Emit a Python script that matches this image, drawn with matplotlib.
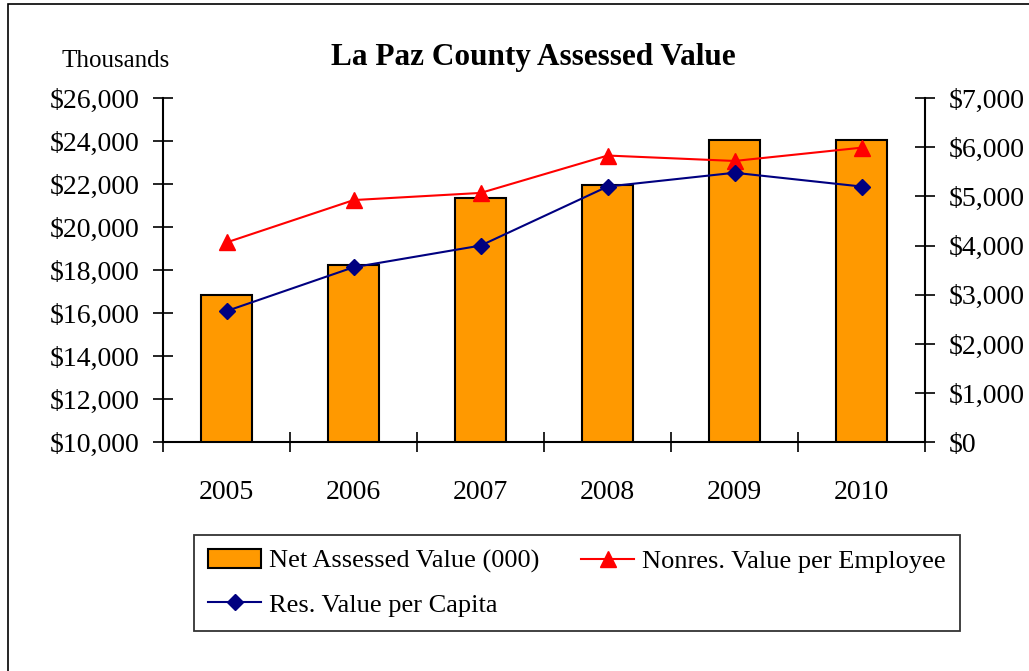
import matplotlib
matplotlib.use('Agg')
import matplotlib.pyplot as plt
from matplotlib.patches import Rectangle
from matplotlib.ticker import FuncFormatter, FixedLocator

# values
years = ['2005', '2006', '2007', '2008', '2009', '2010']
netAssessed = [16840, 18230, 21330, 21980, 24070, 24070]   # thousands
nonresPerEmp = [4065, 4925, 5070, 5830, 5720, 5990]
resPerCapita = [2670, 3560, 4000, 5200, 5480, 5200]

plt.rcParams['font.family'] = ['Liberation Serif', 'DejaVu Serif']

fig = plt.figure(figsize=(10.29, 6.71), dpi=100)
ax = fig.add_axes([163.3/1029, 1-442.3/671, (925-163.3)/1029, (442.3-98)/671])
ax2 = ax.twinx()

x = list(range(len(years)))
bars = ax.bar(x, netAssessed, width=0.40, color='#FF9900', edgecolor='black',
              linewidth=1.5, label='Net Assessed Value (000)', zorder=2)
ax.set_ylim(10000, 26000)
ax.set_xlim(-0.5, len(years)-0.5)
ax.set_yticks(range(10000, 26001, 2000))
ax.yaxis.set_major_formatter(FuncFormatter(lambda v, p: '${:,.0f}'.format(v)))

lnNon, = ax2.plot(x, nonresPerEmp, color='#FF0000', lw=1.5, marker='^', ms=11,
                  label='Nonres. Value per Employee')
lnRes, = ax2.plot(x, resPerCapita, color='#000080', lw=1.5, marker='D', ms=8.5,
                  label='Res. Value per Capita')
ax2.set_ylim(0, 7000)
ax2.set_yticks(range(0, 7001, 1000))
ax2.yaxis.set_major_formatter(FuncFormatter(lambda v, p: '${:,.0f}'.format(v)))

ax.set_xticks(x)
ax.set_xticklabels(years)
ax.xaxis.set_minor_locator(FixedLocator([i - 0.5 for i in range(len(years)+1)]))

for a in (ax, ax2):
    a.spines['top'].set_visible(False)
    for s in a.spines.values():
        s.set_linewidth(1.5)
ax.spines['right'].set_visible(False)
ax2.spines['left'].set_visible(False)
ax2.spines['bottom'].set_visible(False)

ax.tick_params(axis='y', direction='inout', length=13.7, width=1.2, labelsize=20, pad=10)
ax2.tick_params(axis='y', direction='inout', length=13.7, width=1.2, labelsize=20, pad=10)
ax.tick_params(axis='x', which='major', length=0, labelsize=20, pad=27)
ax.tick_params(axis='x', which='minor', direction='inout', length=13.7, width=1.2)

fig.text(533/1029, 1-58/671, 'La Paz County Assessed Value', ha='center', va='center',
         fontsize=22.5, fontweight='bold')
fig.text(116/1029, 1-61/671, 'Thousands', ha='center', va='center', fontsize=18)

leg = fig.legend([bars, lnRes, lnNon],
                 ['Net Assessed Value (000)', 'Res. Value per Capita', 'Nonres. Value per Employee'],
                 ncol=2, loc='center', bbox_to_anchor=(577/1029, 1-583/671),
                 fontsize=19, frameon=True, fancybox=False, borderpad=0.55,
                 labelspacing=0.75, columnspacing=1.6, handlelength=2.0, handletextpad=0.3)
leg.get_frame().set_edgecolor('black')
leg.get_frame().set_linewidth(1.3)

fig.add_artist(Rectangle((8/1029, -0.05), 1.1, 1.05 - 4/671, transform=fig.transFigure,
                         fill=False, edgecolor='black', linewidth=1.2))

fig.savefig('out.png', dpi=100)
